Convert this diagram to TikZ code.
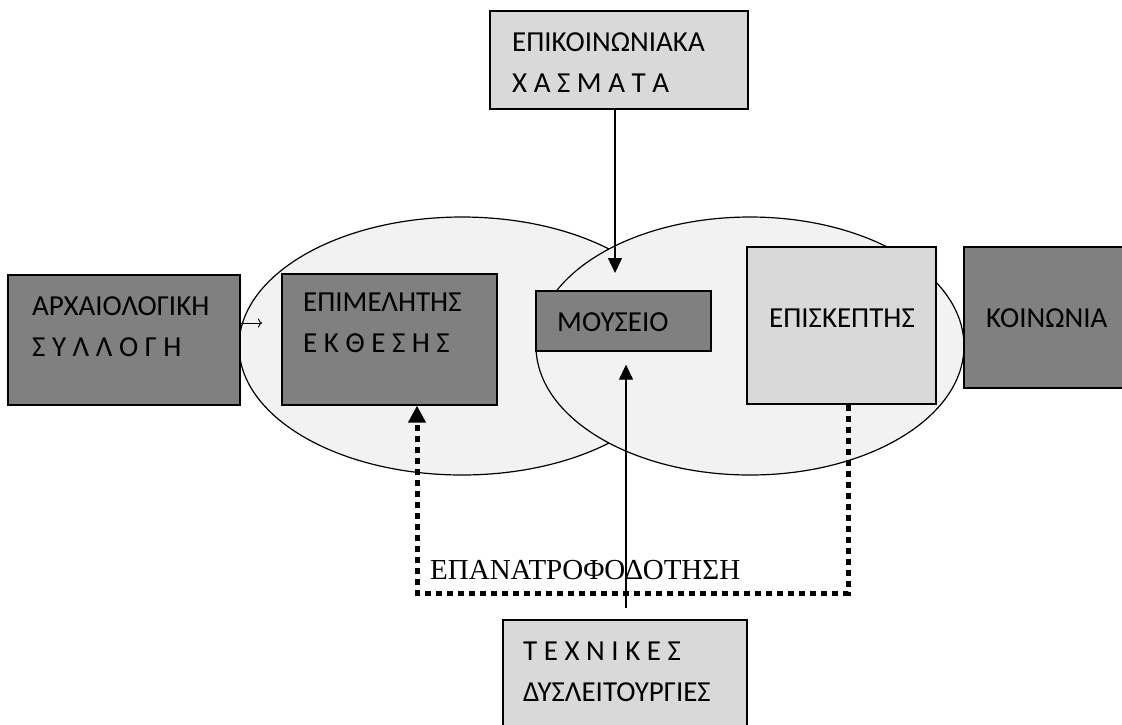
\documentclass[tikz,border=0pt]{standalone}
\usepackage{fontspec}
\setmainfont{Liberation Serif}
\newfontfamily\calibri{Carlito}
\usepackage{xcolor}
\usepackage{tikz}
\usetikzlibrary{arrows.meta, shapes.geometric}

\definecolor{boxdark}{HTML}{808080}
\definecolor{boxlight}{HTML}{D9D9D9}
\definecolor{blobfill}{HTML}{F2F2F2}

\begin{document}
\begin{tikzpicture}[x=1pt,y=-1pt]
  \tikzstyle{blob} = [ellipse, draw, fill=blobfill, line width=1.2pt, inner sep=0pt]
  \tikzstyle{dark} = [rectangle, draw, fill=boxdark, line width=1.3pt, inner sep=0pt]
  \tikzstyle{light} = [rectangle, draw, fill=boxlight, line width=1.3pt, inner sep=0pt]
  \tikzstyle{txt} = [font=\calibri\fontsize{29}{41}\selectfont, inner sep=0pt, align=left, anchor=north west]
  \tikzstyle{edge} = [-{Triangle[length=15pt,width=14pt]}, line width=1.3pt]
  \tikzstyle{feedback} = [-{Triangle[length=17pt,width=17pt]}, line width=5pt, dash pattern=on 6pt off 5pt]

  \useasboundingbox (0,0) rectangle (1122,724);

  % the two overlapping areas
  \node[blob, minimum width=446pt, minimum height=258pt] (curve1) at (462,346) {};
  \node[blob, minimum width=428pt, minimum height=258pt] (curve2) at (750,346) {};

  % boxes
  \node[light, minimum width=258pt, minimum height=98pt]  (gaps)    at (619,60) {};
  \node[dark,  minimum width=232pt, minimum height=130pt] (arch)    at (124,340) {};
  \node[dark,  minimum width=215pt, minimum height=131pt] (curator) at (389.5,339.5) {};
  \node[dark,  minimum width=175pt, minimum height=60pt]  (museum)  at (623.5,321) {};
  \node[light, minimum width=189pt, minimum height=157pt] (visitor) at (841.5,325.5) {};
  \node[dark,  minimum width=176pt, minimum height=141pt] (society) at (1052,317.5) {};
  \node[light, minimum width=244pt, minimum height=120pt] (tech)    at (625,680) {};

  % texts
  \node[txt] (gapstxt)    at (512,32)  {ΕΠΙΚΟΙΝΩΝΙΑΚΑ\\Χ Α Σ Μ Α Τ Α};
  \node[txt] (archtxt)    at (32,296)  {ΑΡΧΑΙΟΛΟΓΙΚΗ\\Σ Υ Λ Λ Ο Γ Η};
  \node[txt] (curatortxt) at (303,293) {ΕΠΙΜΕΛΗΤΗΣ\\Ε Κ Θ Ε Σ Η Σ};
  \node[txt] (museumtxt)  at (557,312) {ΜΟΥΣΕΙΟ};
  \node[txt] (visitortxt) at (769,309) {ΕΠΙΣΚΕΠΤΗΣ};
  \node[txt] (societytxt) at (986,308) {ΚΟΙΝΩΝΙΑ};
  \node[txt] (techtxt)    at (523,642) {Τ Ε Χ Ν Ι Κ Ε Σ\\ΔΥΣΛΕΙΤΟΥΡΓΙΕΣ};

  % connectors
  \coordinate (smalltip) at (262,323);
  \draw[-{To[length=4pt,width=9pt]}, line width=0.9pt] (arch.east |- smalltip) -- (smalltip);

  \coordinate (gapstip) at (615,273);
  \draw[edge] (gaps.south -| gapstip) -- (gapstip);

  \coordinate (techtail) at (626,608);
  \draw[edge, shorten >=13pt] (techtail) -- (museum.south -| techtail);

  \coordinate (fbright) at (848,593);
  \coordinate (fbleft) at (417,593);
  \draw[feedback] (visitor.south -| fbright) -- (fbright) -- (fbleft) -- (curator.south -| fbleft);
  \node[font=\fontsize{29}{32}\selectfont, inner sep=0pt, anchor=north west] (fblabel) at (430,560) {ΕΠΑΝΑΤΡΟΦΟΔΟΤΗΣΗ};
\end{tikzpicture}
\end{document}
